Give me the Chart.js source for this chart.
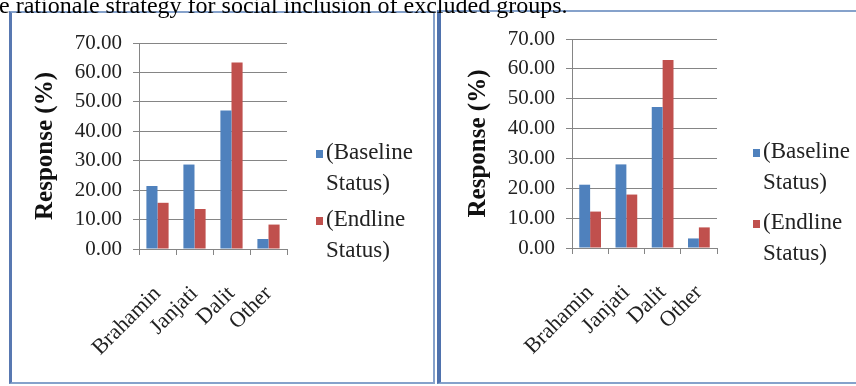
<!DOCTYPE html>
<html>
<head>
<meta charset="utf-8">
<script src="https://cdn.jsdelivr.net/npm/chart.js@4.4.1/dist/chart.umd.min.js"></script>
<style>
  html, body { margin: 0; padding: 0; background: #fff; width: 856px; height: 386px; overflow: hidden; }
  body { position: relative; font-family: "Liberation Serif", "Times New Roman", serif; }
  .caption { position: absolute; left: -1px; top: -9px; font-size: 24px; line-height: 28px; white-space: nowrap; color: #000; z-index: 3; }
  .panel { position: absolute; box-sizing: border-box; background: #fff; }
  #p1 { left: 9px; top: 11px; width: 426px; height: 373px; border: 2px solid #86a2cb; border-left: 3px solid #5878b1; }
  #p2 { left: 437px; top: 10px; width: 430px; height: 374px; border: 2px solid #86a2cb; border-left: 4px solid #4f72ad; border-right: none; }
  canvas { position: absolute; z-index: 2; }
  #c1 { left: 12px; top: 14px; }
  #c2 { left: 442px; top: 12px; }
</style>
</head>
<body>
<div class="caption">e rationale strategy for social inclusion of excluded groups.</div>
<div class="panel" id="p1"></div>
<div class="panel" id="p2"></div>
<canvas id="c1" width="420" height="366" style="width:420px;height:366px"></canvas>
<canvas id="c2" width="414" height="368" style="width:414px;height:368px"></canvas>
<script>
// Caste groups on the category axis
const categories = ['Brahamin', 'Janjati', 'Dalit', 'Other'];
const seriesNames = ['(Baseline Status)', '(Endline Status)'];
const seriesColors = ['#4f81bd', '#c0504d'];

// First panel: response (%) by group
const baselineLeft = [21.4, 28.7, 47.1, 3.4];
const endlineLeft = [15.7, 13.6, 63.4, 8.3];

// Second panel: response (%) by group
const baselineRight = [21.2, 28.0, 47.2, 3.2];
const endlineRight = [12.2, 17.9, 63.0, 6.9];

const yMin = 0, yMax = 70, yStep = 10;
const axisTitle = 'Response (%)';

const FONT = '"Liberation Serif", "Times New Roman", serif';

// Two-line legend drawn to the right of the plot
const sideLegend = {
  id: 'sideLegend',
  afterDraw(chart, args, opts) {
    const ctx = chart.ctx;
    ctx.save();
    ctx.font = '23px ' + FONT;
    ctx.textBaseline = 'middle';
    ctx.textAlign = 'left';
    chart.data.datasets.forEach((ds, i) => {
      const y0 = opts.top + i * opts.itemGap;
      ctx.fillStyle = ds.backgroundColor;
      ctx.fillRect(opts.x, y0 - 3, 7, 8);
      ctx.fillStyle = '#222';
      ds.label.split(' ').forEach((t, j) => {
        ctx.fillText(t, opts.x + 10, y0 + j * opts.lineGap);
      });
    });
    ctx.restore();
  }
};

function makeChart(id, baseline, endline, geo) {
  const cv = document.getElementById(id);
  return new Chart(cv, {
    type: 'bar',
    data: {
      labels: categories,
      datasets: [
        { label: seriesNames[0], data: baseline, backgroundColor: seriesColors[0] },
        { label: seriesNames[1], data: endline, backgroundColor: seriesColors[1] }
      ]
    },
    options: {
      responsive: false,
      animation: false,
      devicePixelRatio: 1,
      categoryPercentage: 0.6,
      barPercentage: 1.0,
      layout: { padding: { top: geo.top, right: cv.width - geo.right, left: 0, bottom: 0 } },
      plugins: {
        legend: { display: false },
        tooltip: { enabled: false },
        sideLegend: geo.legend
      },
      scales: {
        x: {
          offset: true,
          grid: { display: true, offset: true, drawOnChartArea: false, drawTicks: true, tickLength: 6, color: '#858585' },
          border: { display: true, color: '#858585', width: 1 },
          ticks: { font: { family: FONT, size: 22 }, color: '#222', minRotation: 45, maxRotation: 45, autoSkip: false, padding: 26 },
          afterFit(s) { s.height = cv.height - geo.bottom; }
        },
        y: {
          min: yMin, max: yMax,
          grid: { color: '#858585', tickLength: 6, lineWidth: 1 },
          border: { display: true, color: '#858585', width: 1 },
          ticks: { stepSize: yStep, callback: v => Number(v).toFixed(2), font: { family: FONT, size: 21 }, color: '#222', padding: 11 },
          title: { display: true, text: axisTitle, font: { family: FONT, size: 25, weight: 'bold' }, color: '#111', padding: { top: geo.titlePad, bottom: 0 } },
          afterFit(s) { s.width = geo.left; }
        }
      }
    },
    plugins: [sideLegend]
  });
}

makeChart('c1', baselineLeft, endlineLeft, {
  left: 127, right: 275, top: 29, bottom: 235, titlePad: 19,
  legend: { x: 304, top: 139, itemGap: 67, lineGap: 31 }
});
makeChart('c2', baselineRight, endlineRight, {
  left: 130, right: 275, top: 27, bottom: 236, titlePad: 22,
  legend: { x: 311, top: 140, itemGap: 71, lineGap: 31 }
});
</script>
</body>
</html>
